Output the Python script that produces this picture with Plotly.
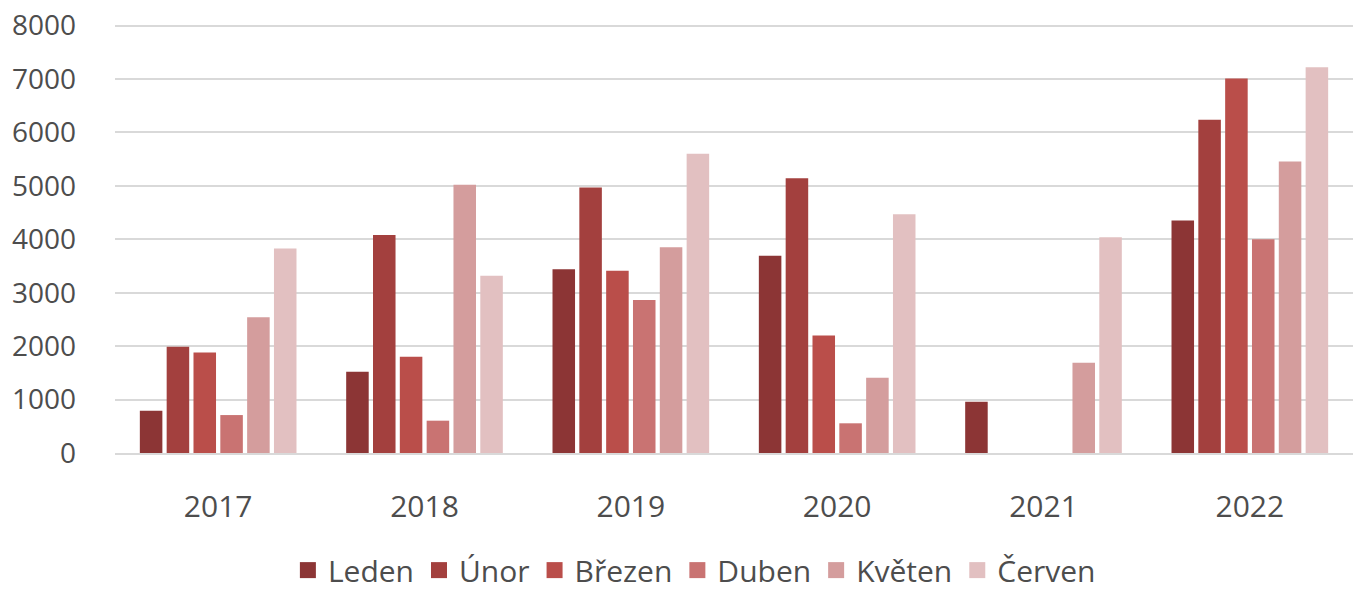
import plotly.graph_objects as go

years = ["2017", "2018", "2019", "2020", "2021", "2022"]
series_names = ["Leden", "Únor", "Březen", "Duben", "Květen", "Červen"]
leden = [790, 1520, 3440, 3690, 960, 4350]
unor = [1990, 4080, 4970, 5145, None, 6240]
brezen = [1880, 1800, 3410, 2200, None, 7010]
duben = [710, 605, 2865, 556, None, 4000]
kveten = [2540, 5020, 3850, 1410, 1690, 5455]
cerven = [3830, 3320, 5600, 4470, 4040, 7220]
values = [leden, unor, brezen, duben, kveten, cerven]
colors = ["#8C3535", "#A3403E", "#BA4E4A", "#C97372", "#D49D9D", "#E2C0C1"]
y_ticks = [0, 1000, 2000, 3000, 4000, 5000, 6000, 7000, 8000]

font_family = "Open Sans, Noto Sans, sans-serif"
text_color = "#4d4d4d"
fs = 30

fig = go.Figure()
for name, vals, col in zip(series_names, values, colors):
    fig.add_trace(go.Bar(x=years, y=vals, name=name, legendgroup=name, showlegend=False,
                         marker=dict(color=col, line=dict(width=0))))
# legend entries with larger square symbols
for name, col in zip(series_names, colors):
    fig.add_trace(go.Scatter(x=[None], y=[None], mode="markers", name=name, legendgroup=name,
                             marker=dict(symbol="square", size=18, color=col), hoverinfo="skip"))

fig.update_layout(
    width=1360, height=591,
    paper_bgcolor="white", plot_bgcolor="white",
    barmode="group", bargap=0.22, bargroupgap=0.16,
    margin=dict(l=115, r=7, t=24, b=138, autoexpand=False),
    font=dict(family=font_family, color=text_color, size=fs),
    legend=dict(orientation="h", x=0.468, xanchor="center", y=-0.273, yanchor="middle",
                font=dict(size=30, color=text_color), itemwidth=30, tracegroupgap=0,
                itemsizing="trace"),
    xaxis=dict(showgrid=False, showline=True, linecolor="#d9d9d9", linewidth=2,
               ticks="", ticklabelstandoff=26, tickfont=dict(size=fs, color=text_color)),
    yaxis=dict(range=[0, 8030], tickvals=y_ticks, showgrid=True, gridcolor="#d9d9d9", gridwidth=2,
               zeroline=False, showline=False, ticks="", ticklabelstandoff=38,
               ticklabeloverflow="allow", tickfont=dict(size=28, color=text_color)),
)

# remove the page's default body margin so the figure fills the window exactly
fig.write_html("out.html", config={"displayModeBar": False},
               post_script="document.body.style.margin='0';")
